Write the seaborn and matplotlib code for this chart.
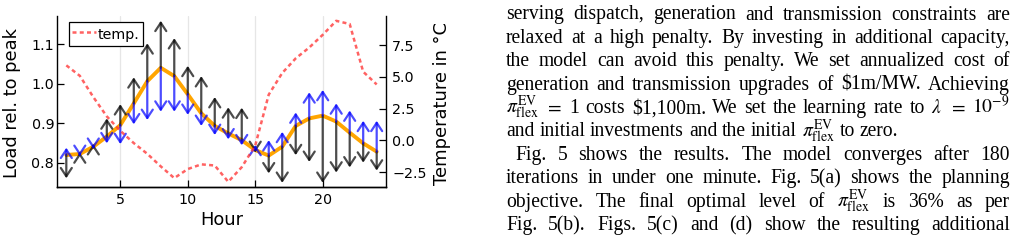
import matplotlib
matplotlib.use("Agg")
import matplotlib.pyplot as plt
import seaborn as sns
import pandas as pd

# ---------------- data ----------------
hours = list(range(1, 25))
load = [0.8195, 0.822, 0.8405, 0.866, 0.895, 0.950, 1.006, 1.040, 1.019, 0.973,
        0.925, 0.893, 0.874, 0.857, 0.832, 0.818, 0.8405, 0.893, 0.912, 0.919,
        0.904, 0.876, 0.849, 0.828]
black_tip = [0.7605, 0.826, 0.847, 0.912, 0.948, 1.016, 1.102, 1.159, 1.115, 1.045,
             1.019, 0.966, 0.940, 0.939, 0.827, 0.773, 0.749, 0.819, 0.802, 0.749,
             0.775, 0.788, 0.800, 0.780]
blue_tip = [0.838, 0.817, 0.835, 0.849, 0.847, 0.897, 0.908, 0.929, 0.929, 0.921,
            0.893, 0.870, 0.859, 0.844, 0.845, 0.857, 0.878, 0.927, 0.978, 0.984,
            0.950, 0.932, 0.906, 0.906]
temp = [5.90, 5.08, 3.41, 1.89, 0.76, -0.21, -1.05, -2.04, -2.96, -2.25,
        -1.88, -1.97, -3.25, -2.10, -0.40, 3.60, 5.30, 6.45, 7.30, 8.30,
        9.40, 9.15, 5.40, 4.40]
x_ticks = [5, 10, 15, 20]
left_ticks = [0.8, 0.9, 1.0, 1.1]
right_ticks = [-2.5, 0.0, 2.5, 5.0, 7.5]

text_lines = [
    "serving dispatch, generation and transmission constraints are",
    "relaxed at a high penalty. By investing in additional capacity,",
    "the model can avoid this penalty. We set annualized cost of",
    "generation and transmission upgrades of $1m/MW. Achieving",
    r"$\pi^{\mathrm{EV}}_{\mathrm{flex}}$ $=$ 1 costs $1,100m. We set the learning rate to $\lambda$ $=$ $10^{-9}$",
    r"and initial investments and the initial $\pi^{\mathrm{EV}}_{\mathrm{flex}}$ to zero.",
    "Fig. 5 shows the results. The model converges after 180",
    "iterations in under one minute. Fig. 5(a) shows the planning",
    r"objective. The final optimal level of $\pi^{\mathrm{EV}}_{\mathrm{flex}}$ is 36% as per",
    "Fig. 5(b). Figs. 5(c) and (d) show the resulting additional",
]
justified = [True, True, True, True, True, False, True, True, True, True]
indents = [0, 0, 0, 0, 0, 0, 9, 0, 0, 0]

# ---------------- style ----------------
sns.set_theme(style="white")
plt.rcParams["font.family"] = ["DejaVu Sans"]
plt.rcParams["mathtext.fontset"] = "stix"
plt.rcParams["axes.edgecolor"] = "black"
plt.rcParams["text.color"] = "black"
plt.rcParams["axes.labelcolor"] = "black"
plt.rcParams["xtick.color"] = "black"
plt.rcParams["ytick.color"] = "black"
plt.rcParams["axes.linewidth"] = 1.0

W, H = 1012, 242
fig = plt.figure(figsize=(W / 100, H / 100), dpi=100)
ax = fig.add_axes([57 / W, 1 - 187 / H, 329 / W, 171 / H])

df = pd.DataFrame({"Hour": hours, "load": load, "temp": temp})

ax.grid(axis="x", color="#e6e6e6", lw=0.9)
ax.grid(axis="y", visible=False)
ax.set_axisbelow(True)

sns.lineplot(data=df, x="Hour", y="load", ax=ax, color="orange", lw=2.8, zorder=2)

head = "->,head_length=0.5,head_width=0.33"
for h, l, b, u in zip(hours, load, black_tip, blue_tip):
    ax.annotate("", xy=(h, b), xytext=(h, l),
                arrowprops=dict(arrowstyle=head, color="black", alpha=0.7, lw=1.6,
                                shrinkA=0, shrinkB=0))
    ax.annotate("", xy=(h, u), xytext=(h, l),
                arrowprops=dict(arrowstyle=head, color="blue", alpha=0.7, lw=1.6,
                                shrinkA=0, shrinkB=0))

ax.set_xlim(0.31, 24.69)
ax.set_ylim(0.7385, 1.171)
ax.set_xticks(x_ticks)
ax.set_yticks(left_ticks)
ax.set_yticklabels([f"{v:.1f}" for v in left_ticks])
ax.tick_params(axis="x", direction="in", length=5, width=0.9, pad=4, labelsize=10.3,
               bottom=True, top=False)
ax.tick_params(axis="y", direction="in", length=5, width=0.9, pad=2, labelsize=10.3,
               left=True, right=False)
ax.spines["top"].set_visible(False)
ax.spines["right"].set_visible(False)
ax.set_xlabel("Hour", fontsize=12.9)
ax.set_ylabel("Load rel. to peak", fontsize=12.9)
ax.xaxis.set_label_coords(0.5, -(211 - 187) / 171)
ax.yaxis.set_label_coords((21.5 - 57) / 329, 0.49)

ax2 = ax.twinx()
sns.lineplot(data=df, x="Hour", y="temp", ax=ax2, color="#ff3b3b", alpha=0.8, lw=1.8,
             linestyle=(0, (1.6, 1.3)), label="temp.")
ax2.set_ylim(-3.66, 9.78)
ax2.set_yticks(right_ticks)
ax2.set_yticklabels([f"{v:.1f}".replace("-", "\u2212") for v in right_ticks])
ax2.tick_params(axis="y", direction="in", length=5, width=0.9, pad=4.5, labelsize=10.3,
                right=True, left=False)
ax2.spines["top"].set_visible(False)
ax2.spines["left"].set_visible(False)
ax2.set_ylabel("Temperature in \u00b0C", fontsize=12.9)
ax2.yaxis.set_label_coords((433 - 57) / 329, 0.49)
ax2.set_xlabel("")
leg = ax2.legend(loc="upper left", bbox_to_anchor=((68.7 - 57) / 329, (187 - 22.3) / 171),
                 borderaxespad=0, frameon=True, fancybox=False, edgecolor="black",
                 framealpha=1, fontsize=10.3, handlelength=1.7, handletextpad=0.15,
                 borderpad=0.2, handleheight=1.6)
leg.get_frame().set_linewidth(0.9)

# ---------------- body text (justified) ----------------
fig.canvas.draw()
renderer = fig.canvas.get_renderer()
x_left, x_right = 506, 1010
fs = 14.1
for k, line in enumerate(text_lines):
    words = line.split(" ")
    y = 19.5 + 23.4 * k
    objs = [fig.text(0, 1 - y / H, w, fontsize=fs, family="Liberation Serif",
                     va="baseline", ha="left") for w in words]
    widths = [o.get_window_extent(renderer).width for o in objs]
    start = x_left + indents[k]
    if justified[k] and len(words) > 1:
        gap = (x_right - start - sum(widths)) / (len(words) - 1)
    else:
        gap = 0.25 * fs * 100 / 72
    x = start
    for o, wdt in zip(objs, widths):
        o.set_x(x / W)
        x += wdt + gap

fig.savefig("out.png", dpi=100)
